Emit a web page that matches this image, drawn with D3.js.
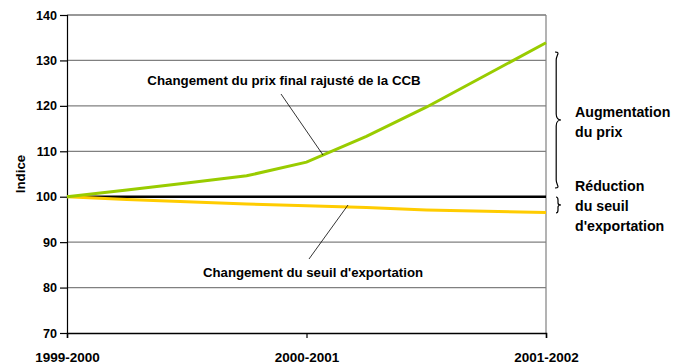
<!DOCTYPE html>
<html>
<head>
<meta charset="utf-8">
<script src="https://cdn.jsdelivr.net/npm/d3@7/dist/d3.min.js"></script>
<style>
  html, body { margin: 0; padding: 0; background: #fff; }
  svg { display: block; font-family: "Liberation Sans", Arial, sans-serif; font-weight: bold; }
</style>
</head>
<body>
<svg id="chart" width="676" height="364"></svg>
<script>
// Period positions (quarters across the three fiscal years)
const periods = [0, 0.25, 0.5, 0.75, 1, 1.25, 1.5, 1.75, 2];
// Adjusted final CCB price index
const prixFinal = [100, 101.5, 103.0, 104.6, 107.6, 113.3, 119.7, 126.8, 133.9];
// Export threshold index
const seuilExport = [100, 99.4, 98.9, 98.4, 98.0, 97.6, 97.1, 96.8, 96.5];
// Reference level
const reference = [100, 100];
const referencePeriods = [0, 2];
// Axis ticks
const xTickValues = [0, 1, 2];
const xTickLabels = ["1999-2000", "2000-2001", "2001-2002"];
const yTicks = [70, 80, 90, 100, 110, 120, 130, 140];

const svg = d3.select("#chart");
const m = { left: 67, right: 130, top: 15, bottom: 31 };
const W = 676, H = 364;
const FONT = "Liberation Sans, Arial, sans-serif";

const x = d3.scaleLinear().domain([0, 2]).range([m.left, W - m.right]);
const y = d3.scaleLinear().domain([70, 140]).range([H - m.bottom, m.top]);

// Horizontal gridlines
svg.append("g")
  .selectAll("line")
  .data(yTicks.filter(v => v > 70 && v < 140 && v !== 100))
  .join("line")
  .attr("x1", x(0)).attr("x2", x(2))
  .attr("y1", d => y(d)).attr("y2", d => y(d))
  .attr("stroke", "#808080").attr("stroke-width", 1.2);

// Top and right frame
svg.append("line").attr("x1", x(0)).attr("x2", x(2)).attr("y1", y(140)).attr("y2", y(140))
  .attr("stroke", "#333").attr("stroke-width", 1.2);
svg.append("line").attr("x1", x(2)).attr("x2", x(2)).attr("y1", y(140)).attr("y2", y(70))
  .attr("stroke", "#808080").attr("stroke-width", 1.2);

// Y axis
const yAxis = svg.append("g")
  .attr("transform", `translate(${x(0)},0)`)
  .call(d3.axisLeft(y).tickValues(yTicks).tickSize(7).tickPadding(3));
yAxis.select(".domain").attr("stroke", "#000").attr("stroke-width", 1.2);
yAxis.selectAll(".tick line").attr("stroke", "#000").attr("stroke-width", 1.2);
yAxis.selectAll("text").attr("font-size", 12.6).attr("font-weight", "bold")
  .attr("font-family", FONT).attr("fill", "#000");

// X axis
const xAxis = svg.append("g")
  .attr("transform", `translate(0,${y(70)})`)
  .call(d3.axisBottom(x).tickValues(xTickValues).tickSize(5).tickPadding(14)
    .tickFormat((d, i) => xTickLabels[i]));
xAxis.select(".domain").attr("stroke", "#000").attr("stroke-width", 1.5);
xAxis.selectAll(".tick line").attr("stroke", "#000").attr("stroke-width", 1.2);
xAxis.selectAll("text").attr("font-size", 13.5).attr("font-weight", "bold")
  .attr("font-family", FONT).attr("fill", "#000");

// Y axis title
svg.append("text")
  .attr("transform", `translate(24.5,174) rotate(-90)`)
  .attr("text-anchor", "middle")
  .attr("font-size", 13.3)
  .text("Indice");

const line = d3.line().x(d => x(d[0])).y(d => y(d[1]));

// Reference line at 100
svg.append("path")
  .datum(referencePeriods.map((p, i) => [p, reference[i]]))
  .attr("d", line).attr("fill", "none").attr("stroke", "#000").attr("stroke-width", 2.6);

// Export threshold
svg.append("path")
  .datum(periods.map((p, i) => [p, seuilExport[i]]))
  .attr("d", line).attr("fill", "none").attr("stroke", "#ffcc00").attr("stroke-width", 3);

// Final price
svg.append("path")
  .datum(periods.map((p, i) => [p, prixFinal[i]]))
  .attr("d", line).attr("fill", "none").attr("stroke", "#99cc00").attr("stroke-width", 3);

// Annotations with leader lines
svg.append("text").attr("x", 284).attr("y", 85).attr("text-anchor", "middle")
  .attr("font-size", 13.3).text("Changement du prix final rajusté de la CCB");
svg.append("line").attr("x1", 281).attr("y1", 94).attr("x2", 323).attr("y2", 155)
  .attr("stroke", "#000").attr("stroke-width", 0.8);

svg.append("text").attr("x", 313).attr("y", 276.5).attr("text-anchor", "middle")
  .attr("font-size", 13.2).text("Changement du seuil d'exportation");
svg.append("line").attr("x1", 309).attr("y1", 259).attr("x2", 348).attr("y2", 205)
  .attr("stroke", "#000").attr("stroke-width", 0.8);

// Braces
function brace(xL, y0, y1, w) {
  const mid = (y0 + y1) / 2;
  return `M${xL},${y0} C${xL + w},${y0} ${xL + w * 0.2},${y0 + 3} ${xL + w * 0.2},${y0 + 8}
    L${xL + w * 0.2},${mid - 6} C${xL + w * 0.2},${mid - 2} ${xL + w * 0.6},${mid} ${xL + w},${mid}
    C${xL + w * 0.6},${mid} ${xL + w * 0.2},${mid + 2} ${xL + w * 0.2},${mid + 6}
    L${xL + w * 0.2},${y1 - 8} C${xL + w * 0.2},${y1 - 3} ${xL + w},${y1} ${xL},${y1}`;
}
svg.append("path").attr("d", brace(555, 52, 188, 6))
  .attr("fill", "none").attr("stroke", "#000").attr("stroke-width", 1.2);
function smallBrace(xL, y0, y1, w) {
  const mid = (y0 + y1) / 2;
  return `M${xL},${y0} Q${xL + w * 0.4},${y0} ${xL + w * 0.4},${y0 + 3} L${xL + w * 0.4},${mid - 2}
    Q${xL + w * 0.4},${mid} ${xL + w},${mid} Q${xL + w * 0.4},${mid} ${xL + w * 0.4},${mid + 2}
    L${xL + w * 0.4},${y1 - 3} Q${xL + w * 0.4},${y1} ${xL},${y1}`;
}
svg.append("path").attr("d", smallBrace(556, 197, 213, 5))
  .attr("fill", "none").attr("stroke", "#000").attr("stroke-width", 1.2);

const sideLabels = [
  { t: "Augmentation", y: 117 },
  { t: "du prix", y: 137 },
  { t: "Réduction", y: 191 },
  { t: "du seuil", y: 211 },
  { t: "d'exportation", y: 230.5 }
];
svg.append("g").selectAll("text").data(sideLabels).join("text")
  .attr("x", 575).attr("y", d => d.y).attr("font-size", 14.2).text(d => d.t);
</script>
</body>
</html>
